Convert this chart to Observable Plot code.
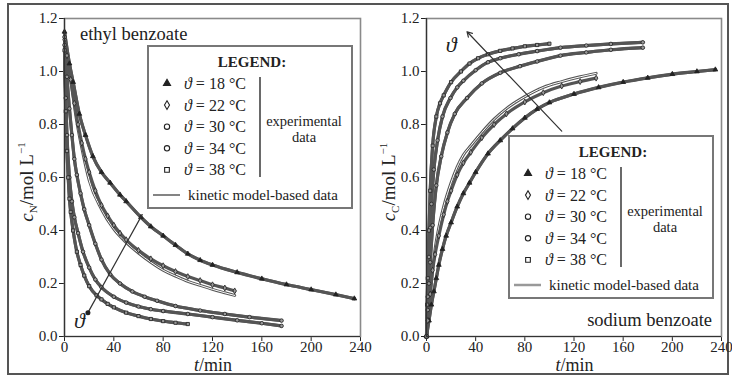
<!DOCTYPE html>
<html><head><meta charset="utf-8">
<script src="https://cdn.jsdelivr.net/npm/d3@7"></script>
<script src="https://cdn.jsdelivr.net/npm/@observablehq/plot@0.6"></script>
<style>
body{margin:0;background:#fff;}
#wrap{position:relative;width:732px;height:383px;overflow:hidden;font-family:"Liberation Serif","Times New Roman","DejaVu Serif",serif;}
#frame{position:absolute;left:7px;top:3px;width:718px;height:368px;border:2px solid #555;}
.panel{position:absolute;top:0;}
.panel svg{overflow:visible;}
.panel svg text{font-family:"Liberation Serif","Times New Roman","DejaVu Serif",serif;}
</style></head><body>
<div id="wrap"><div id="frame"></div><div id="left" class="panel" style="left:0"></div><div id="right" class="panel" style="left:362px"></div></div>
<script>
// ---------- data ----------
const temps = ["18", "22", "30", "34", "38"];
const xTicks = [0, 40, 80, 120, 160, 200, 240];
const yTicks = [0, 0.2, 0.4, 0.6, 0.8, 1.0, 1.2];

// ethyl benzoate (left)
const eb18T = [0,4,7,12,17,23,30,37,45,50,62,70,80,90,100,110,120,140,160,180,200,220,235];
const eb18C = [1.15,1.03,0.96,0.84,0.76,0.68,0.62,0.58,0.535,0.51,0.45,0.415,0.38,0.345,0.312,0.288,0.27,0.242,0.218,0.196,0.177,0.158,0.143];
const eb22T = [0,2,5,8,11,14,17,20,25,30,35,40,45,50,60,70,80,90,100,110,120,130,138];
const eb22C = [1.12,1.06,0.97,0.88,0.8,0.73,0.67,0.62,0.55,0.495,0.455,0.42,0.39,0.365,0.325,0.293,0.267,0.245,0.226,0.211,0.195,0.183,0.172];
const eb30T = [0,2,4,6,8,10,13,16,20,25,30,37,45,55,65,75,90,110,130,150,176];
const eb30C = [1.13,0.98,0.86,0.76,0.67,0.61,0.54,0.48,0.42,0.35,0.29,0.235,0.2,0.17,0.15,0.135,0.115,0.098,0.085,0.073,0.06];
const eb34T = [0,1,2,4,6,8,11,15,20,25,30,40,50,60,70,80,100,120,140,160,176];
const eb34C = [1.1,0.9,0.76,0.6,0.51,0.45,0.39,0.32,0.26,0.215,0.186,0.15,0.128,0.113,0.103,0.096,0.085,0.073,0.061,0.05,0.04];
const eb38T = [0,1,2,3,4,5,7,10,13,16,20,26,30,35,40,50,60,70,80,90,100];
const eb38C = [1.08,0.85,0.7,0.6,0.52,0.47,0.4,0.32,0.27,0.23,0.19,0.155,0.14,0.123,0.11,0.09,0.077,0.066,0.058,0.052,0.047];
const ebModel22T = [0,5,10,15,20,30,40,50,60,70,80,90,100,110,120,130,138];
const ebModel22C = [1.12,0.97,0.81,0.69,0.59,0.48,0.405,0.355,0.315,0.28,0.25,0.228,0.208,0.193,0.178,0.165,0.155];

// sodium benzoate (right)
const sb18T = [0,2,4,6,8,10,13,16,20,25,30,35,40,50,60,70,80,90,100,120,140,160,180,200,220,235];
const sb18C = [0,0.06,0.12,0.17,0.22,0.27,0.33,0.38,0.43,0.49,0.54,0.58,0.62,0.69,0.74,0.785,0.825,0.858,0.883,0.915,0.94,0.96,0.976,0.99,1.0,1.007];
const sb22T = [0,1,3,5,7,10,14,17,20,25,30,36,45,55,65,80,95,110,125,138];
const sb22C = [0,0.06,0.16,0.25,0.31,0.38,0.46,0.51,0.55,0.61,0.655,0.695,0.75,0.8,0.84,0.885,0.92,0.945,0.962,0.975];
const sb30T = [0,1,2,3,5,8,12,17,23,33,45,60,76,90,109,130,150,176];
const sb30C = [0,0.1,0.2,0.28,0.42,0.57,0.68,0.77,0.84,0.9,0.955,0.995,1.02,1.038,1.06,1.072,1.082,1.09];
const sb34T = [0,1,2,3,4,6,9,13,19.5,25,30,40,50,60,75,90,109,130,150,176];
const sb34C = [0,0.15,0.3,0.41,0.5,0.63,0.74,0.83,0.9,0.94,0.965,1.005,1.035,1.05,1.065,1.077,1.09,1.098,1.104,1.11];
const sb38T = [0,0.5,1,2,3,5,8,11,14,20,28,35,42,50,60,70,80,90,100];
const sb38C = [0,0.12,0.22,0.4,0.55,0.72,0.83,0.88,0.91,0.96,1.0,1.03,1.05,1.065,1.078,1.087,1.095,1.1,1.105];
const sbModel22T = [0,3,7,10,14,20,25,30,36,45,55,65,80,95,110,125,138];
const sbModel22C = [0,0.16,0.33,0.41,0.49,0.58,0.64,0.685,0.72,0.77,0.82,0.86,0.905,0.94,0.962,0.98,0.993];

// annotation arrows (data units)
const ebArrow = [{x1: 63, y1: 0.46, x2: 19, y2: 0.09}];
const ebTheta = [{x: 12, y: 0.06}];
const sbArrow = [{x1: 110, y1: 0.775, x2: 33, y2: 1.15}];
const sbTheta = [{x: 20, y: 1.1}];

// ---------- helpers ----------
const FAM = "'Liberation Serif','Times New Roman','DejaVu Serif',serif";
const symbolOf = {"18": "triangle", "22": "diamond", "30": "circle", "34": "circle", "38": "square"};
function rows(list) {
  return list.flatMap(([temp, T, C]) => T.map((t, i) => ({t, c: C[i], temp})));
}

function panel(opts) {
  const data = rows(opts.series);
  const model = rows(opts.model);
  const svg = Plot.plot({
    width: opts.width, height: 383,
    marginLeft: 64, marginRight: opts.marginRight, marginTop: 18, marginBottom: 47,
    style: {fontFamily: FAM, fontSize: "15px", color: "#222", background: "transparent", overflow: "visible"},
    x: {domain: [0, 240], ticks: xTicks, tickFormat: d3.format("d"), label: null, tickSize: 5, tickPadding: 0},
    y: {domain: [0, 1.2], ticks: yTicks, tickFormat: d3.format(".1f"), label: null, tickSize: 5, tickPadding: 2},
    marks: [
      Plot.frame({stroke: "#8a8a8a", strokeWidth: 1.6}),
      Plot.line(model, {x: "t", y: "c", z: "temp", stroke: "#555", strokeWidth: 3, curve: "monotone-x"}),
      Plot.line(model, {x: "t", y: "c", z: "temp", stroke: "white", strokeWidth: 1, curve: "monotone-x"}),
      Plot.line(data, {x: "t", y: "c", z: "temp", stroke: "#555", strokeWidth: 3.2, curve: "monotone-x"}),
      Plot.dot(data, {x: "t", y: "c", symbol: d => symbolOf[d.temp], r: 1.8,
        fill: d => d.temp === "18" ? "#222" : "#999", stroke: "#222", strokeWidth: 0.8}),
      Plot.ruleX([0], {stroke: "#333", strokeWidth: 1.2}),
      Plot.ruleY([0], {stroke: "#333", strokeWidth: 1.2}),
      Plot.arrow(opts.arrow, {x1: "x1", y1: "y1", x2: "x2", y2: "y2", stroke: "#333", strokeWidth: 1.2, headLength: opts.head}),
      opts.tipDot ? Plot.dot(opts.arrow, {x: "x2", y: "y2", r: 2.5, fill: "#222"}) : null,
      Plot.text(opts.theta, {x: "x", y: "y", text: () => "ϑ", fontSize: 22, fontStyle: "italic", fill: "#222"})
    ]
  });
  const g = d3.select(svg);
  // y axis title
  const yt = g.append("text").attr("transform", "translate(33,182) rotate(-90)")
    .attr("text-anchor", "middle").attr("font-family", FAM).attr("font-size", 19).attr("fill", "#222");
  yt.append("tspan").attr("font-style", "italic").text("c");
  yt.append("tspan").attr("font-size", 11).attr("dy", 4).text(opts.sub);
  yt.append("tspan").attr("dy", -4).text("/mol L");
  yt.append("tspan").attr("font-size", 11).attr("dy", -8).text("−1");
  // x axis title
  const xt = g.append("text").attr("x", (64 + opts.width - opts.marginRight) / 2 + 1).attr("y", 371)
    .attr("text-anchor", "middle").attr("font-family", FAM).attr("font-size", 18).attr("fill", "#222");
  xt.append("tspan").attr("font-style", "italic").text("t");
  xt.append("tspan").text("/min");
  // compound name
  g.append("text").attr("x", opts.name.x).attr("y", opts.name.y).attr("text-anchor", opts.name.anchor)
    .attr("font-family", FAM).attr("font-size", 18.5).attr("fill", "#222").text(opts.name.text);
  // legend box
  const L = g.append("g").attr("transform", `translate(${opts.legend.x},${opts.legend.y})`)
    .attr("font-family", FAM).attr("fill", "#222").attr("text-anchor", "start");
  L.append("rect").attr("width", 204).attr("height", 162).attr("fill", "white").attr("stroke", "#777").attr("stroke-width", 2);
  L.append("text").attr("x", 104).attr("y", 21).attr("text-anchor", "middle").attr("font-weight", "bold").attr("font-size", 15).text("LEGEND:");
  const sym = d3.symbol().size(22);
  const d3sym = {"18": d3.symbolTriangle, "22": d3.symbolDiamond, "30": d3.symbolCircle, "34": d3.symbolCircle, "38": d3.symbolSquare};
  temps.forEach((tp, i) => {
    const y = 37.5 + i * 21.6;
    L.append("path").attr("transform", `translate(19,${y})`).attr("d", sym.type(d3sym[tp])())
      .attr("fill", tp === "18" ? "#222" : "white").attr("stroke", "#222").attr("stroke-width", 1.1);
    const t = L.append("text").attr("x", 36).attr("y", y + 5.5).attr("font-size", 16).attr("text-anchor", "start");
    t.append("tspan").attr("font-style", "italic").text("ϑ");
    t.append("tspan").text(` = ${tp} °C`);
  });
  L.append("line").attr("x1", 112).attr("x2", 112).attr("y1", 31).attr("y2", 131).attr("stroke", "#444").attr("stroke-width", 1.6);
  L.append("text").attr("x", 156).attr("y", 80).attr("text-anchor", "middle").attr("font-size", 14.5).text("experimental");
  L.append("text").attr("x", 156).attr("y", 96).attr("text-anchor", "middle").attr("font-size", 14.5).text("data");
  L.append("line").attr("x1", 5).attr("x2", 32).attr("y1", 149).attr("y2", 149).attr("stroke", opts.legendLine).attr("stroke-width", opts.legendLineW);
  L.append("text").attr("x", 40).attr("y", 154).attr("font-size", 15).attr("text-anchor", "start").text("kinetic model-based data");
  return svg;
}

document.getElementById("left").append(panel({
  width: 366, marginRight: 6, sub: "N",
  series: [["18", eb18T, eb18C], ["22", eb22T, eb22C], ["30", eb30T, eb30C], ["34", eb34T, eb34C], ["38", eb38T, eb38C]],
  model: [["18", eb18T, eb18C], ["22", ebModel22T, ebModel22C], ["30", eb30T, eb30C], ["34", eb34T, eb34C], ["38", eb38T, eb38C]],
  arrow: ebArrow, theta: ebTheta, head: 0, tipDot: true,
  name: {text: "ethyl benzoate", x: 80, y: 40, anchor: "start"},
  legend: {x: 148, y: 46}, legendLine: "#333", legendLineW: 1.2
}));
document.getElementById("right").append(panel({
  width: 370, marginRight: 11, sub: "C",
  series: [["18", sb18T, sb18C], ["22", sb22T, sb22C], ["30", sb30T, sb30C], ["34", sb34T, sb34C], ["38", sb38T, sb38C]],
  model: [["18", sb18T, sb18C], ["22", sbModel22T, sbModel22C], ["30", sb30T, sb30C], ["34", sb34T, sb34C], ["38", sb38T, sb38C]],
  arrow: sbArrow, theta: sbTheta, head: 7, tipDot: false,
  name: {text: "sodium benzoate", x: 350, y: 326, anchor: "end"},
  legend: {x: 147, y: 136}, legendLine: "#999", legendLineW: 2.5
}));
</script>
</body></html>
